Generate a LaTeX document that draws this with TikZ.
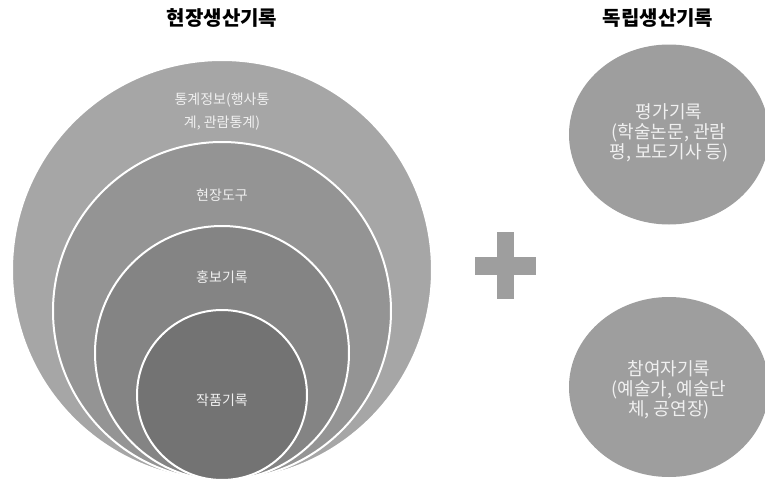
\documentclass[tikz,border=0pt]{standalone}
\usepackage{fontspec}
\setmainfont{Noto Sans CJK KR}
\usetikzlibrary{shapes.geometric}
\definecolor{ringA}{RGB}{166, 166, 166}
\definecolor{ringB}{RGB}{148, 148, 148}
\definecolor{ringC}{RGB}{132, 132, 132}
\definecolor{ringD}{RGB}{115, 115, 115}
\definecolor{sidegray}{RGB}{158, 158, 158}
\definecolor{labelgray}{RGB}{240, 240, 240}

\begin{document}
\begin{tikzpicture}[
  x=0.75pt, y=-0.75pt,
  ring/.style={circle, draw=white, line width=1.5pt, inner sep=0pt},
  side/.style={ellipse, fill=sidegray, inner sep=0pt, minimum width=150pt, minimum height=135pt},
  lbl/.style={text=labelgray, align=center, font=\fontsize{10.5}{17}\selectfont},
  sidelbl/.style={text=labelgray, align=center, font=\fontsize{13.5}{15}\selectfont},
  ttl/.style={font=\fontsize{15}{17}\selectfont\bfseries}
]
  \useasboundingbox (0,0) rectangle (765,482);

  % nested circles
  \node[ring, fill=ringA, minimum size=315pt] (outer) at (222,270) {};
  \node[ring, fill=ringB, minimum size=253.5pt] (tools) at (222,311) {};
  \node[ring, fill=ringC, minimum size=190.5pt] (promo) at (222,353) {};
  \node[ring, fill=ringD, minimum size=127.5pt] (works) at (222,395) {};

  \node[lbl] (outerlbl) at (222,111.5) {통계정보(행사통\\계, 관람통계)};
  \node[lbl] (toolslbl) at (222,195) {현장도구};
  \node[lbl] (promolbl) at (222,277) {홍보기록};
  \node[lbl] (workslbl) at (222,400) {작품기록};

  % plus sign
  \fill[sidegray] (475,257) rectangle (536,275);
  \fill[sidegray] (497,232) rectangle (514,299);

  % right side
  \node[side] (eval) at (669,134.5) {};
  \node[side] (part) at (669,387) {};
  \node[sidelbl] (evallbl) at (669,133) {평가기록\\(학술논문, 관람\\평, 보도기사 등)};
  \node[sidelbl] (partlbl) at (669,389.5) {참여자기록\\(예술가, 예술단\\체, 공연장)};

  % titles
  \node[ttl] (fieldttl) at (222,18) {현장생산기록};
  \node[ttl] (indepttl) at (658,18) {독립생산기록};
\end{tikzpicture}
\end{document}
